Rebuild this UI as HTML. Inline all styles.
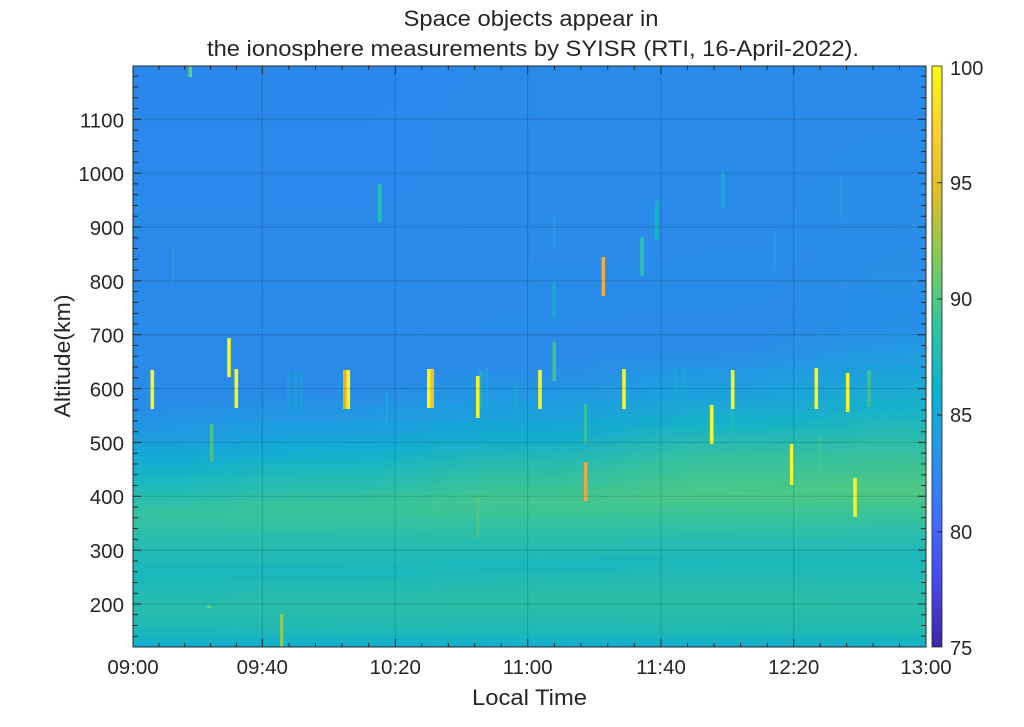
<!DOCTYPE html>
<html>
<head>
<meta charset="utf-8">
<style>
  html,body{margin:0;padding:0;background:#fff;}
  svg{display:block;}
  text{font-family:"Liberation Sans",Arial,sans-serif;fill:#262626;}
</style>
</head>
<body>
<svg width="1024" height="727" viewBox="0 0 1024 727" xmlns="http://www.w3.org/2000/svg">
<defs>
  <clipPath id="cp"><rect x="133" y="66" width="793" height="581"/></clipPath>
  <filter id="bl" filterUnits="userSpaceOnUse" x="-200" y="0" width="1424" height="727">
    <feGaussianBlur stdDeviation="45 3"/>
  </filter>
  <linearGradient id="g1" gradientUnits="userSpaceOnUse" x1="0" y1="66" x2="0" y2="647">
    <stop offset="0" stop-color="#2b88ea"/>
    <stop offset="0.575" stop-color="#2a8ae8"/>
    <stop offset="0.630" stop-color="#2098e0"/>
    <stop offset="0.675" stop-color="#12aad4"/>
    <stop offset="0.716" stop-color="#1cb8c0"/>
    <stop offset="0.773" stop-color="#36c29e"/>
    <stop offset="0.824" stop-color="#26bcb0"/>
    <stop offset="0.876" stop-color="#1cb6bc"/>
    <stop offset="0.933" stop-color="#28bdac"/>
    <stop offset="0.974" stop-color="#1eb6ba"/>
    <stop offset="1" stop-color="#0eaed2"/>
  </linearGradient>
  <linearGradient id="g2" gradientUnits="userSpaceOnUse" x1="0" y1="66" x2="0" y2="647">
    <stop offset="0" stop-color="#2b88ea"/>
    <stop offset="0.558" stop-color="#2a8ae8"/>
    <stop offset="0.618" stop-color="#1e9ce0"/>
    <stop offset="0.661" stop-color="#12acd2"/>
    <stop offset="0.704" stop-color="#20bab8"/>
    <stop offset="0.764" stop-color="#3cc498"/>
    <stop offset="0.816" stop-color="#28bdae"/>
    <stop offset="0.871" stop-color="#1cb6bc"/>
    <stop offset="0.928" stop-color="#2abea8"/>
    <stop offset="0.971" stop-color="#20b8b6"/>
    <stop offset="1" stop-color="#0eaed0"/>
  </linearGradient>
  <linearGradient id="g3" gradientUnits="userSpaceOnUse" x1="0" y1="66" x2="0" y2="647">
    <stop offset="0" stop-color="#2a8aea"/>
    <stop offset="0.523" stop-color="#2a8ce8"/>
    <stop offset="0.592" stop-color="#1c9ede"/>
    <stop offset="0.644" stop-color="#14aecc"/>
    <stop offset="0.687" stop-color="#28bcac"/>
    <stop offset="0.747" stop-color="#44c68e"/>
    <stop offset="0.799" stop-color="#2ebfa6"/>
    <stop offset="0.859" stop-color="#1cb6bc"/>
    <stop offset="0.919" stop-color="#2cbea6"/>
    <stop offset="0.971" stop-color="#20b8b4"/>
    <stop offset="1" stop-color="#0eaed0"/>
  </linearGradient>
  <linearGradient id="g4" gradientUnits="userSpaceOnUse" x1="0" y1="66" x2="0" y2="647">
    <stop offset="0" stop-color="#2a8aea"/>
    <stop offset="0.489" stop-color="#2a8ce8"/>
    <stop offset="0.566" stop-color="#1ca2dc"/>
    <stop offset="0.618" stop-color="#18b2c6"/>
    <stop offset="0.670" stop-color="#34c0a2"/>
    <stop offset="0.738" stop-color="#4cc886"/>
    <stop offset="0.795" stop-color="#30c0a4"/>
    <stop offset="0.850" stop-color="#1cb6bc"/>
    <stop offset="0.919" stop-color="#2cbea6"/>
    <stop offset="0.971" stop-color="#22b8b2"/>
    <stop offset="1" stop-color="#10aece"/>
  </linearGradient>
  <linearGradient id="g5" gradientUnits="userSpaceOnUse" x1="0" y1="66" x2="0" y2="647">
    <stop offset="0" stop-color="#2a8aea"/>
    <stop offset="0.454" stop-color="#2890e6"/>
    <stop offset="0.540" stop-color="#1ca6d8"/>
    <stop offset="0.592" stop-color="#18b2c8"/>
    <stop offset="0.644" stop-color="#2cbcaa"/>
    <stop offset="0.730" stop-color="#50c882"/>
    <stop offset="0.795" stop-color="#2ebea8"/>
    <stop offset="0.850" stop-color="#1cb6bc"/>
    <stop offset="0.919" stop-color="#2abea8"/>
    <stop offset="0.971" stop-color="#22baae"/>
    <stop offset="1" stop-color="#10b0cc"/>
  </linearGradient>
  <linearGradient id="cb" x1="0" y1="0" x2="0" y2="1">
    <stop offset="0" stop-color="#f9fa0e"/>
    <stop offset="0.111" stop-color="#fccf30"/>
    <stop offset="0.222" stop-color="#dcbd29"/>
    <stop offset="0.333" stop-color="#80cc59"/>
    <stop offset="0.444" stop-color="#31c69f"/>
    <stop offset="0.556" stop-color="#08b4d0"/>
    <stop offset="0.667" stop-color="#2796eb"/>
    <stop offset="0.778" stop-color="#3e6fff"/>
    <stop offset="0.889" stop-color="#4747eb"/>
    <stop offset="1" stop-color="#3e26a8"/>
  </linearGradient>
</defs>

<!-- background field -->
<g clip-path="url(#cp)">
  <g filter="url(#bl)">
    <rect x="-150" y="30" width="381" height="660" fill="url(#g1)"/>
    <rect x="231" y="30" width="199" height="660" fill="url(#g2)"/>
    <rect x="430" y="30" width="200" height="660" fill="url(#g3)"/>
    <rect x="630" y="30" width="198" height="660" fill="url(#g4)"/>
    <rect x="828" y="30" width="346" height="660" fill="url(#g5)"/>
  </g>

  <!-- faint streaks / weak echoes -->
  <g>
    <rect x="171.5" y="247" width="3" height="38" fill="#2a98de" opacity="0.7"/>
    <rect x="136.5" y="197" width="3" height="39" fill="#2a98de" opacity="0.6"/>
    <rect x="553" y="212" width="3" height="36" fill="#2598dc" opacity="0.8"/>
    <rect x="773" y="233" width="3" height="37" fill="#22a0dc" opacity="0.8"/>
    <rect x="839.5" y="177" width="3" height="40" fill="#249cdc" opacity="0.8"/>
    <rect x="287" y="370" width="3" height="38" fill="#14a8cc" opacity="0.8"/>
    <rect x="294.5" y="369" width="3" height="38" fill="#1aa4d4" opacity="0.7"/>
    <rect x="300" y="373" width="3" height="39" fill="#229ed8" opacity="0.6"/>
    <rect x="385" y="393" width="3" height="37" fill="#18acd0" opacity="0.7"/>
    <rect x="479.5" y="370" width="3" height="38" fill="#20b4c0" opacity="0.8"/>
    <rect x="485" y="368" width="3" height="40" fill="#1ea8d0" opacity="0.7"/>
    <rect x="514.5" y="382" width="3" height="38" fill="#16aacc" opacity="0.7"/>
    <rect x="673.5" y="369" width="3" height="38" fill="#10b0c8" opacity="0.7"/>
    <rect x="681.5" y="369" width="3" height="38" fill="#16acd0" opacity="0.6"/>
    <rect x="731.2" y="410" width="3" height="26" fill="#28bca8" opacity="0.6"/>
    <rect x="818.5" y="437" width="3" height="38" fill="#48c690" opacity="0.6"/>
    <rect x="476.5" y="497" width="3" height="40" fill="#60c878" opacity="0.6"/>
    <rect x="207" y="606" width="4" height="2" fill="#90d060" opacity="0.8"/>
  </g>

  <!-- teal / green echoes -->
  <g>
    <rect x="188.5" y="66" width="3.5" height="11" fill="#5ed080"/>
    <rect x="378" y="184" width="3.5" height="38" fill="#22c0b0"/>
    <rect x="210" y="424" width="3.5" height="38" fill="#4cc08e"/>
    <rect x="280" y="614" width="3.5" height="33" fill="#80cc5c"/>
    <rect x="552.5" y="342" width="3.5" height="39" fill="#3cc494"/>
    <rect x="584" y="404" width="3" height="39" fill="#3cc498" opacity="0.85"/>
    <rect x="552.5" y="282" width="3" height="36" fill="#1aa8d4"/>
    <rect x="640.3" y="237" width="3.5" height="39" fill="#2ec0a8"/>
    <rect x="654.7" y="201" width="4" height="39" fill="#12b4c4"/>
    <rect x="721" y="172" width="3.5" height="37" fill="#1ea8d4"/>
    <rect x="867.3" y="370" width="3.5" height="37" fill="#40c090"/>
  </g>

  <!-- orange echoes -->
  <rect x="584" y="462" width="3.5" height="39" fill="#eea640"/>
  <rect x="601.6" y="257" width="3.5" height="39" fill="#f0b040"/>

  <!-- yellow echoes -->
  <g fill="#f4f52a">
    <rect x="150.5" y="370" width="3.6" height="39"/>
    <rect x="227.2" y="338" width="3.6" height="39"/>
    <rect x="234.5" y="369" width="3.6" height="39"/>
    <rect x="476" y="376" width="3.6" height="42"/>
    <rect x="538.2" y="370" width="3.6" height="39"/>
    <rect x="622.2" y="369" width="3.6" height="40"/>
    <rect x="709.9" y="405" width="3.6" height="39"/>
    <rect x="730.9" y="370" width="3.6" height="39"/>
    <rect x="789.9" y="444" width="3.6" height="41"/>
    <rect x="814.5" y="368" width="3.6" height="41"/>
    <rect x="845.9" y="373" width="3.6" height="39"/>
    <rect x="853.2" y="478" width="3.6" height="39"/>
  </g>
  <rect x="343" y="370" width="3.6" height="39" fill="#e8b418"/>
  <rect x="346.5" y="370" width="3.6" height="39" fill="#f8f526"/>
  <rect x="427" y="369" width="3.6" height="39" fill="#f8f526"/>
  <rect x="430.5" y="369" width="3.6" height="39" fill="#f0c030"/>

  <!-- grid -->
  <g stroke="#000" stroke-opacity="0.15" stroke-width="1" fill="none">
    <path d="M262.3 66V647M395.3 66V647M527.7 66V647M661 66V647M793.7 66V647"/>
    <path d="M133 604H926M133 550.1H926M133 496.3H926M133 442.4H926M133 388.6H926M133 334.7H926M133 280.9H926M133 227H926M133 173.1H926M133 119.3H926"/>
  </g>
</g>

<!-- axes box -->
<rect x="133" y="66" width="793" height="581" fill="none" stroke="#262626" stroke-width="1"/>

<!-- ticks -->
<g stroke="#262626" stroke-width="1" fill="none">
  <path d="M262.3 647v-8M395.3 647v-8M527.7 647v-8M661 647v-8M793.7 647v-8
           M262.3 66v8M395.3 66v8M527.7 66v8M661 66v8M793.7 66v8"/>
  <path d="M158.9 647v-4M184.7 647v-4M210.6 647v-4M236.4 647v-4
           M288.9 647v-4M315.5 647v-4M342.1 647v-4M368.7 647v-4
           M421.8 647v-4M448.3 647v-4M474.7 647v-4M501.2 647v-4
           M554.4 647v-4M581 647v-4M607.7 647v-4M634.3 647v-4
           M687.5 647v-4M714.1 647v-4M740.6 647v-4M767.2 647v-4
           M820.2 647v-4M846.6 647v-4M873.1 647v-4M899.5 647v-4"/>
  <path d="M158.9 66v4M184.7 66v4M210.6 66v4M236.4 66v4
           M288.9 66v4M315.5 66v4M342.1 66v4M368.7 66v4
           M421.8 66v4M448.3 66v4M474.7 66v4M501.2 66v4
           M554.4 66v4M581 66v4M607.7 66v4M634.3 66v4
           M687.5 66v4M714.1 66v4M740.6 66v4M767.2 66v4
           M820.2 66v4M846.6 66v4M873.1 66v4M899.5 66v4"/>
  <path d="M133 604h8M133 550.1h8M133 496.3h8M133 442.4h8M133 388.6h8M133 334.7h8M133 280.9h8M133 227h8M133 173.1h8M133 119.3h8
           M926 604h-8M926 550.1h-8M926 496.3h-8M926 442.4h-8M926 388.6h-8M926 334.7h-8M926 280.9h-8M926 227h-8M926 173.1h-8M926 119.3h-8"/>
  <path d="M133 636.3h5M133 625.5h5M133 614.8h5M133 593.2h5M133 582.5h5M133 571.7h5M133 560.9h5
           M133 539.4h5M133 528.6h5M133 517.8h5M133 507.1h5M133 485.5h5M133 474.7h5M133 464h5M133 453.2h5
           M133 431.7h5M133 420.9h5M133 410.1h5M133 399.3h5M133 377.8h5M133 367h5M133 356.3h5M133 345.5h5
           M133 323.9h5M133 313.2h5M133 302.4h5M133 291.6h5M133 270.1h5M133 259.3h5M133 248.5h5M133 237.8h5
           M133 216.2h5M133 205.5h5M133 194.7h5M133 183.9h5M133 162.4h5M133 151.6h5M133 140.8h5M133 130.1h5
           M133 108.5h5M133 97.7h5M133 87h5M133 76.2h5"/>
  <path d="M926 636.3h-5M926 625.5h-5M926 614.8h-5M926 593.2h-5M926 582.5h-5M926 571.7h-5M926 560.9h-5
           M926 539.4h-5M926 528.6h-5M926 517.8h-5M926 507.1h-5M926 485.5h-5M926 474.7h-5M926 464h-5M926 453.2h-5
           M926 431.7h-5M926 420.9h-5M926 410.1h-5M926 399.3h-5M926 377.8h-5M926 367h-5M926 356.3h-5M926 345.5h-5
           M926 323.9h-5M926 313.2h-5M926 302.4h-5M926 291.6h-5M926 270.1h-5M926 259.3h-5M926 248.5h-5M926 237.8h-5
           M926 216.2h-5M926 205.5h-5M926 194.7h-5M926 183.9h-5M926 162.4h-5M926 151.6h-5M926 140.8h-5M926 130.1h-5
           M926 108.5h-5M926 97.7h-5M926 87h-5M926 76.2h-5"/>
</g>

<!-- colorbar -->
<rect x="932" y="66" width="10" height="581" fill="url(#cb)" stroke="#262626" stroke-width="0.8"/>
<g stroke="#262626" stroke-width="1">
  <path d="M937 182.7h5M937 299h5M937 415h5M937 531.7h5"/>
</g>
<g font-size="20">
  <text x="950" y="75">100</text>
  <text x="950" y="190">95</text>
  <text x="950" y="306">90</text>
  <text x="950" y="422">85</text>
  <text x="950" y="539">80</text>
  <text x="950" y="655">75</text>
</g>

<!-- y tick labels -->
<g font-size="20.5" text-anchor="end">
  <text x="124" y="612">200</text>
  <text x="124" y="558">300</text>
  <text x="124" y="504">400</text>
  <text x="124" y="450.5">500</text>
  <text x="124" y="396.5">600</text>
  <text x="124" y="342.5">700</text>
  <text x="124" y="289">800</text>
  <text x="124" y="235">900</text>
  <text x="124" y="181">1000</text>
  <text x="124" y="127.5">1100</text>
</g>

<!-- x tick labels -->
<g font-size="20.5" text-anchor="middle">
  <text x="133" y="674">09:00</text>
  <text x="262.3" y="674">09:40</text>
  <text x="395.3" y="674">10:20</text>
  <text x="527.7" y="674">11:00</text>
  <text x="661" y="674">11:40</text>
  <text x="793.7" y="674">12:20</text>
  <text x="926" y="674">13:00</text>
</g>

<!-- axis labels -->
<text x="529.5" y="705" font-size="22" text-anchor="middle" textLength="115" lengthAdjust="spacingAndGlyphs">Local Time</text>
<text transform="translate(70,356) rotate(-90)" font-size="22" text-anchor="middle" textLength="123" lengthAdjust="spacingAndGlyphs">Altitude(km)</text>

<!-- title -->
<text x="531" y="26" font-size="22" text-anchor="middle" textLength="255" lengthAdjust="spacingAndGlyphs">Space objects appear in</text>
<text x="533" y="56" font-size="22" text-anchor="middle" textLength="652" lengthAdjust="spacingAndGlyphs">the ionosphere measurements by SYISR (RTI, 16-April-2022).</text>
</svg>
</body>
</html>
